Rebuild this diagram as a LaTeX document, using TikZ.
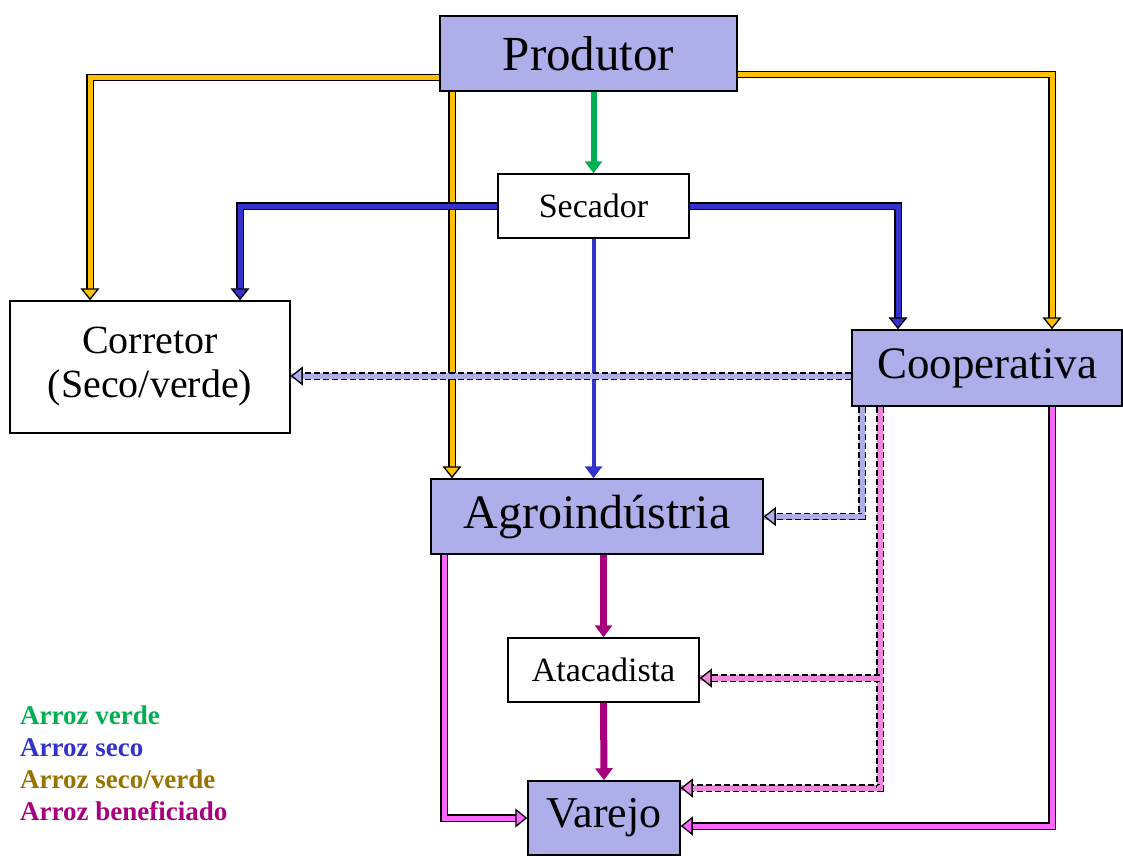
\documentclass[tikz,border=0pt]{standalone}
\usepackage{fontspec}
\setmainfont{Liberation Serif}
\usepackage{tikz}
\usetikzlibrary{arrows.meta}

\definecolor{lavanda}{HTML}{AEAEEA}
\definecolor{verde}{HTML}{00B050}
\definecolor{azul}{HTML}{3333CC}
\definecolor{ouro}{HTML}{FFC000}
\definecolor{oliva}{HTML}{997300}
\definecolor{magenta}{HTML}{A8007F}
\definecolor{rosa}{HTML}{FF66FF}
\definecolor{rosaclaro}{HTML}{EE88DD}

\begin{document}
\begin{tikzpicture}[
                x=1pt, y=-1pt, % pixel-like units, y grows downwards
                box/.style={draw, line width=1.5pt, inner sep=0pt, fill=white}, % Boxes
                lbox/.style={box, fill=lavanda}, % Lavender boxes
                plain/.style={draw=#1, line width=6pt, -{Triangle[length=12pt,width=17pt]}}, % Single arrows
                flow/.style={draw=black, line width=1.3pt, double=#1, double distance=5pt,
                             -{Triangle[length=12pt,width=19pt,fill=#1]}}, % Outlined arrows
                dflow/.style={preaction={draw=#1, line width=6pt, arrows=-},
                              draw=black, dash pattern=on 6pt off 3pt, line width=1.3pt, double=#1, double distance=5pt,
                              -{Triangle[length=12pt,width=19pt,fill=#1]}} % Dashed outlined arrows
                ]
                \useasboundingbox (0,0) rectangle (1123,855);
                \node[lbox, minimum width=297pt, minimum height=75pt, font=\fontsize{49}{55}\selectfont] (prod) at (588.5,53.5) {Produtor};
                \node[box, minimum width=191pt, minimum height=64pt, font=\fontsize{34}{40}\selectfont] (sec) at (593.5,206) {Secador};
                \node[box, minimum width=280pt, minimum height=132pt, align=center, font=\fontsize{40}{44}\selectfont] (corr) at (150,367) {Corretor\\(Seco/verde)};
                \node[lbox, minimum width=270pt, minimum height=76pt, font=\fontsize{45}{50}\selectfont] (coop) at (987,368) {Cooperativa};
                \node[lbox, minimum width=332pt, minimum height=75pt, font=\fontsize{48}{54}\selectfont] (agro) at (597,516.5) {Agroindústria};
                \node[box, minimum width=191pt, minimum height=64pt, font=\fontsize{34}{40}\selectfont] (atac) at (603.5,670) {Atacadista};
                \node[lbox, minimum width=152pt, minimum height=74pt, font=\fontsize{44}{50}\selectfont] (varejo) at (604,818) {Varejo};

                % arroz verde
                \draw[plain=verde] (prod.south -| sec.north) -- (sec.north);
                % arroz seco/verde
                \draw[flow=ouro] ([yshift=-24]prod.west) -| ([xshift=-60]corr.north);
                \draw[flow=ouro] ([yshift=-21]prod.east) -| ([xshift=65]coop.north);
                \draw[flow=ouro] ([xshift=-136.5]prod.south) -- ([xshift=-136.5]prod.south |- agro.north);
                % arroz seco
                \draw[flow=azul] (sec.west) -| ([xshift=90]corr.north);
                \draw[flow=azul] (sec.east) -| ([xshift=-89]coop.north);
                \draw[plain=azul, line width=4pt] (sec.south) -- (sec.south |- agro.north);
                \draw[dflow=lavanda] ([yshift=-8]coop.west) -- ([yshift=-8]coop.west -| corr.east);
                \draw[dflow=lavanda] ([xshift=-125]coop.south) |- (agro.east);
                % arroz beneficiado
                \path ([yshift=-8]atac.east) coordinate (atacin);
                \draw[dflow=rosaclaro] ([xshift=-107]coop.south) |- ([yshift=30]varejo.east);
                \draw[dflow=rosaclaro] ([xshift=-107]coop.south |- atacin) -- (atacin);
                \draw[flow=rosa] ([xshift=-153]agro.south) |- (varejo.west);
                \draw[flow=rosa] ([xshift=65]coop.south) |- ([yshift=-8]varejo.east);
                \draw[plain=magenta, line width=7pt] (agro.south -| atac.north) -- (atac.north);
                \draw[plain=magenta, line width=7pt] (atac.south) -- (varejo.north);

                % legenda
                \node[anchor=north west, align=left, inner sep=0pt, font=\bfseries\fontsize{27}{32}\selectfont] (leg) at (20,706)
                    {\textcolor{verde}{Arroz verde}\\\textcolor{azul}{Arroz seco}\\\textcolor{oliva}{Arroz seco/verde}\\\textcolor{magenta}{Arroz beneficiado}};
            \end{tikzpicture}
\end{document}
